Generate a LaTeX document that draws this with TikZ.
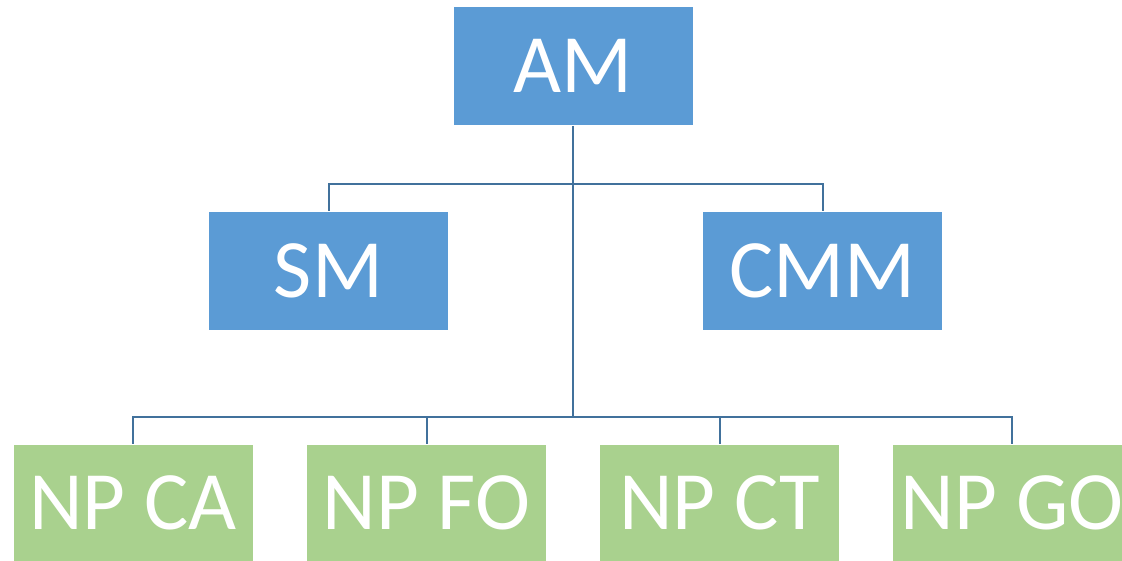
\documentclass[tikz,border=0pt]{standalone}
\usepackage{fontspec}
\setmainfont{Carlito}
\definecolor{boxblue}{HTML}{5B9BD5}
\definecolor{boxgreen}{HTML}{A9D18E}
\definecolor{linkblue}{HTML}{41719C}
\tikzset{
    unit/.style = {draw=white, line width=0.8pt, text=white, font=\fontsize{83}{83}\selectfont,
                   minimum width=240pt, minimum height=119pt, inner sep=0pt},
    topunit/.style = {unit, fill=boxblue},
    subunit/.style = {unit, fill=boxgreen, minimum height=118pt},
    link/.style = {draw=linkblue, line width=2pt}
}

\begin{document}
\begin{tikzpicture}[x=1pt, y=1pt]
    \useasboundingbox (0,0) rectangle (1122,-561);
    \clip (0,0) rectangle (1122,-561);
    \node[topunit] (am) at (573,-66) {AM};
    \node[topunit] (sm) at (328.5,-270.5) {SM};
    \node[topunit] (cmm) at (822.5,-270.5) {CMM};
    \node[subunit] (npca) at (133,-503) {NP CA};
    \node[subunit] (npfo) at (426.5,-503) {NP FO};
    \node[subunit] (npct) at (719.5,-503) {NP CT};
    \node[subunit] (npgo) at (1012,-503) {NP GO};
    \coordinate (midbus) at (573,-184);
    \coordinate (lowbus) at (573,-417);
    \path[link] (am.south) -- (lowbus);
    \path[link] (sm.north) -- (sm.north |- midbus) -- (cmm.north |- midbus) -- (cmm.north);
    \path[link] (npca.north) -- (npca.north |- lowbus) -- (npgo.north |- lowbus) -- (npgo.north);
    \path[link] (npfo.north) -- (npfo.north |- lowbus);
    \path[link] (npct.north) -- (npct.north |- lowbus);
\end{tikzpicture}
\end{document}
